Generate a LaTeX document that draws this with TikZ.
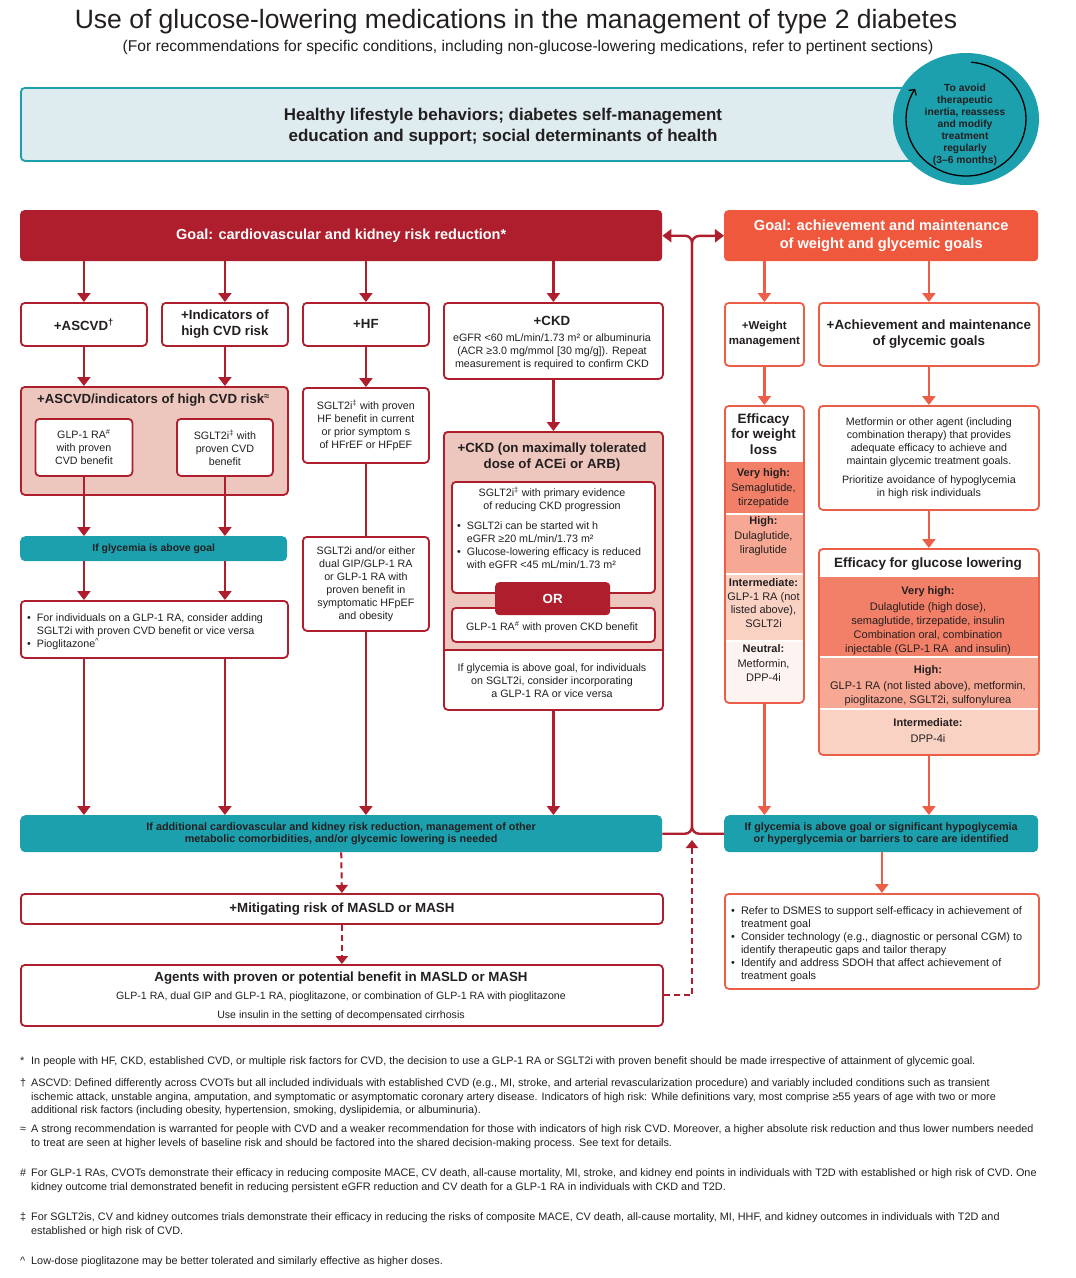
\documentclass[tikz,border=0pt]{standalone}
\usepackage{fontspec}
\setmainfont{Liberation Sans}
\usetikzlibrary{arrows.meta,calc,shapes.geometric}
\definecolor{dred}{RGB}{175,30,45}
\definecolor{pinkf}{RGB}{237,198,190}
\definecolor{tealc}{RGB}{28,160,174}
\definecolor{lblue}{RGB}{222,236,239}
\definecolor{gor}{RGB}{240,88,62}
\definecolor{obd}{RGB}{236,94,72}
\definecolor{vh}{RGB}{242,128,104}
\definecolor{hi}{RGB}{246,168,148}
\definecolor{im}{RGB}{250,210,196}
\definecolor{nt}{RGB}{253,244,241}
\definecolor{txt}{RGB}{35,31,32}
\newcommand\fB{\fontsize{10.7}{13}\selectfont}
\newcommand\fH{\bfseries\fontsize{13.3}{16}\selectfont}
\newcommand\fT{\bfseries\fontsize{10.8}{12.5}\selectfont}
\newcommand\fN{\fontsize{10.85}{13.5}\selectfont}
\newcommand\fL{\bfseries\fontsize{11}{13.5}\selectfont}
\newcommand\fBd{\fontsize{11}{13.5}\selectfont}
\newcommand\bl{\textbullet}
\begin{document}
\begin{tikzpicture}[x=1pt,y=-1pt,
  every node/.style={text=txt},
  sz/.style 2 args={minimum width=#1pt, minimum height=#2pt},
  rb/.style={draw=dred, line width=1.8pt, rounded corners=4pt, fill=white, align=center, inner sep=2pt, anchor=north west},
  ob/.style={draw=obd, line width=1.8pt, rounded corners=4pt, fill=white, align=center, inner sep=2pt, anchor=north west},
  tb/.style={fill=tealc, rounded corners=5pt, align=center, anchor=north west, font=\fT, inner sep=1pt},
  arr/.style={draw=dred, line width=2.4pt, -{Triangle[width=13pt,length=9pt]}},
  oarr/.style={draw=obd, line width=2.4pt, -{Triangle[width=13pt,length=9pt]}},
  conn/.style={draw=dred, line width=2.4pt},
  dsh/.style={draw=dred, line width=2pt, dash pattern=on 6pt off 4pt, -{Triangle[width=12pt,length=8pt]}},
  lbl/.style={align=center, inner sep=0pt},
  tl/.style={anchor=north west, inner sep=0pt}
]
\useasboundingbox (0,0) rectangle (1076,1278);
\fill[white] (0,0) rectangle (1076,1278);

% ---------- header ----------
\node[font=\fontsize{26.5}{31}\selectfont] (title) at (516,22) {Use of glucose-lowering medications in the management of type 2 diabetes};
\node[font=\fontsize{15.6}{18}\selectfont] (subtitle) at (528,47) {(For recommendations for specific conditions, including non-glucose-lowering medications, refer to pertinent sections)};

\node[draw=tealc, fill=lblue, line width=1.8pt, rounded corners=4pt, anchor=north west, sz={915}{73}] (life) at (20,87) {};
\node[font=\bfseries\fontsize{17}{21}\selectfont, lbl] (lifet) at (503,127) {Healthy lifestyle behaviors; diabetes self-management\\education and support; social determinants of health};

\node[ellipse, fill=tealc, minimum width=146pt, minimum height=132pt, inner sep=0pt] (reassess) at (966,119) {};
\node[font=\bfseries\fontsize{10.3}{12}\selectfont, lbl] (reasst) at (965,125) {To avoid\\therapeutic\\inertia, reassess\\and modify\\treatment\\regularly\\(3--6 months)};
\draw[line width=1.3pt, -{Straight Barb[length=4pt,width=9pt]}] ($(reassess.center)+(-85:60 and 57)$) arc[start angle=-85, end angle=212, x radius=60, y radius=57];

% ---------- goals ----------
\node[fill=dred, rounded corners=4pt, anchor=north west, sz={642}{51}, text=white, font=\bfseries\fontsize{14.5}{17}\selectfont] (goalL) at (20,210) {Goal: cardiovascular and kidney risk reduction*};
\node[fill=gor, rounded corners=4pt, anchor=north west, sz={314}{51}, text=white, align=center, font=\bfseries\fontsize{14.6}{18}\selectfont] (goalR) at (724,210) {Goal: achievement and maintenance\\of weight and glycemic goals};

% ---------- bottom teal bars ----------
\node[tb, sz={642}{37}] (tealL) at (20,815) {If additional cardiovascular and kidney risk reduction, management of other\\metabolic comorbidities, and/or glycemic lowering is needed};
\node[tb, sz={314}{37}] (tealR) at (724,815) {If glycemia is above goal or significant hypoglycemia\\or hyperglycemia or barriers to care are identified};

\coordinate (jtop) at (692,236);
\coordinate (jbot) at (tealL.east -| jtop);
\coordinate (dashend) at (692,840);
\draw[conn, rounded corners=7pt, {Triangle[width=13pt,length=9pt]}-] (goalL.east) -| (jbot) -- (tealL.east);
\draw[conn, rounded corners=7pt, -{Triangle[width=13pt,length=9pt]}] (tealR.west) -| (jtop) -- (goalR.west);

% ---------- left column: ASCVD ----------
\node[rb, sz={126}{43}, font=\fH] (ascvd) at (20,302) {+ASCVD\textsuperscript{\dag}};
\node[rb, sz={126}{43}, font=\fH] (ind) at (161,302) {+Indicators of\\high CVD risk};
\node[rb, sz={126}{43}, font=\fH] (hf) at (302,302) {+HF};
\node[rb, sz={219}{76}] (ckd) at (443,302) {};
\node[font=\fH, lbl] (ckdt) at (552,321) {+CKD};
\node[font=\fB, lbl] (ckdb) at (552,352) {eGFR <60 mL/min/1.73 m² or albuminuria\\(ACR ≥3.0 mg/mmol [30 mg/g]). Repeat\\measurement is required to confirm CKD};

\node[draw=dred, fill=pinkf, line width=1.8pt, rounded corners=4pt, anchor=north west, sz={267}{108}] (grp) at (20,386) {};
\node[font=\bfseries\fontsize{13.2}{15}\selectfont, lbl] (grpt) at (153.5,400) {+ASCVD/indicators of high CVD risk\textsuperscript{≈}};
\node[rb, sz={97}{57}, font=\fB] (glp) at (34.5,418) {GLP-1 RA\textsuperscript{\#}\\with proven\\CVD benefit};
\node[rb, sz={96}{57}, font=\fB] (sglt) at (176,418) {SGLT2i\textsuperscript{\ddag} with\\proven CVD\\benefit};

\node[tb, sz={267}{25}, font=\bfseries\fontsize{10.4}{12}\selectfont] (tglyc) at (20,536) {If glycemia is above goal};
\node[rb, sz={267}{57}] (bul) at (20,600) {};
\node[tl, font=\fB] (bult) at (27,612.5) {\begin{tabular}{@{}l@{\hspace{6pt}}l@{}}\bl & For individuals on a GLP-1 RA, consider adding\\ & SGLT2i with proven CVD benefit or vice versa\\ \bl & Pioglitazone\textsuperscript{\textasciicircum}\end{tabular}};

\draw[arr] (goalL.south -| ascvd.north) -- (ascvd.north);
\draw[arr] (goalL.south -| ind.north) -- (ind.north);
\draw[arr] (goalL.south -| hf.north) -- (hf.north);
\draw[arr] (goalL.south -| ckd.north) -- (ckd.north);
\draw[arr] (ascvd.south) -- (ascvd.south |- grp.north);
\draw[arr] (ind.south) -- (ind.south |- grp.north);
\draw[arr] (glp.south -| ascvd.south) -- (tglyc.north -| ascvd.south);
\draw[arr] (sglt.south -| ind.south) -- (tglyc.north -| ind.south);
\draw[arr] (tglyc.south -| ascvd.south) -- (bul.north -| ascvd.south);
\draw[arr] (tglyc.south -| ind.south) -- (bul.north -| ind.south);
\draw[arr] (bul.south -| ascvd.south) -- (tealL.north -| ascvd.south);
\draw[arr] (bul.south -| ind.south) -- (tealL.north -| ind.south);

% ---------- HF column ----------
\node[rb, sz={126}{75}, font=\fB] (hf2) at (302,387) {SGLT2i\textsuperscript{\ddag} with proven\\HF benefit in current\\or prior symptom s\\of HFrEF or HFpEF};
\node[rb, sz={126}{94}, font=\fB] (hf3) at (302,536) {SGLT2i and/or either\\dual GIP/GLP-1 RA\\or GLP-1 RA with\\proven benefit in\\symptomatic HFpEF\\and obesity};
\draw[arr] (hf.south) -- (hf2.north);
\draw[conn] (hf2.south) -- (hf3.north);
\draw[arr] (hf3.south) -- (hf3.south |- tealL.north);

% ---------- CKD column ----------
\begin{scope}
\clip[rounded corners=4pt] (443,431) rectangle (662,709);
\fill[white] (443,431) rectangle (662,709);
\fill[pinkf] (443,431) rectangle (662,650);
\end{scope}
\draw[dred, line width=1.3pt] (443,650) -- (662,650);
\node[draw=dred, line width=1.8pt, rounded corners=4pt, anchor=north west, sz={219}{278}] (ckdg) at (443,431) {};
\node[font=\bfseries\fontsize{13.3}{16}\selectfont, lbl] (ckdgt) at (552,457) {+CKD (on maximally tolerated\\dose of ACEi or ARB)};
\node[rb, sz={203}{111}] (cks) at (451,481) {};
\node[font=\fB, lbl] (ckst) at (552,499.5) {SGLT2i\textsuperscript{\ddag} with primary evidence\\of reducing CKD progression};
\node[tl, font=\fB] (cksb) at (457,520.5) {\begin{tabular}{@{}l@{\hspace{6pt}}l@{}}\bl & SGLT2i can be started wit h\\ & eGFR ≥20 mL/min/1.73 m²\\ \bl & Glucose-lowering efficacy is reduced\\ & with eGFR <45 mL/min/1.73 m²\end{tabular}};
\node[rb, sz={203}{34}] (ckg) at (451,607) {};
\node[font=\fB, lbl] (ckgt) at (552,627) {GLP-1 RA\textsuperscript{\#} with proven CKD benefit};
\node[fill=dred, rounded corners=4pt, anchor=north west, sz={115}{33}, text=white, font=\bfseries\fontsize{13.3}{16}\selectfont] (ckor) at (495,582) {OR};
\node[font=\fB, lbl] (ckdbt) at (552,681) {If glycemia is above goal, for individuals\\on SGLT2i, consider incorporating\\a GLP-1 RA or vice versa};
\draw[arr] (ckd.south) -- (ckdg.north);
\draw[arr] (ckdg.south) -- (ckdg.south |- tealL.north);

% ---------- right column ----------
\node[ob, sz={79}{63}, font=\bfseries\fontsize{11.5}{15}\selectfont] (wm) at (724,302) {+Weight\\management};
\node[ob, sz={220}{63}, font=\bfseries\fontsize{13.4}{16}\selectfont] (ach) at (818,302) {+Achievement and maintenance\\of glycemic goals};

\begin{scope}
\clip[rounded corners=4pt] (724,405) rectangle (803,702);
\fill[white] (724,405) rectangle (803,462);
\fill[vh] (724,462) rectangle (803,514);
\fill[hi] (724,514) rectangle (803,574);
\fill[im] (724,574) rectangle (803,641);
\fill[nt] (724,641) rectangle (803,702);
\draw[white, line width=1.5pt] (724,514) -- (803,514) (724,574) -- (803,574) (724,641) -- (803,641);
\end{scope}
\node[ob, fill=none, sz={79}{297}] (wl) at (724,405) {};
\node[font=\bfseries\fontsize{13.5}{15.5}\selectfont, lbl] (wlt) at (763.5,434) {Efficacy\\for weight\\loss};
\node[font=\fL, lbl] (wl1) at (763.5,474) {Very high:};
\node[font=\fBd, lbl] (wl1b) at (763.5,495.5) {Semaglutide,\\tirzepatide};
\node[font=\fL, lbl] (wl2) at (763.5,522) {High:};
\node[font=\fBd, lbl] (wl2b) at (763.5,543.5) {Dulaglutide,\\liraglutide};
\node[font=\fL, lbl] (wl3) at (763.5,583) {Intermediate:};
\node[font=\fBd, lbl] (wl3b) at (763.5,610) {GLP-1 RA (not\\listed above),\\SGLT2i};
\node[font=\fL, lbl] (wl4) at (763.5,649) {Neutral:};
\node[font=\fBd, lbl] (wl4b) at (763.5,670.5) {Metformin,\\DPP-4i};

\node[ob, sz={220}{104}, font=\fB] (met) at (818,405) {Metformin or other agent (including\\combination therapy) that provides\\adequate efficacy to achieve and\\maintain glycemic treatment goals.\\[6pt]Prioritize avoidance of hypoglycemia\\in high risk individuals};

\begin{scope}
\clip[rounded corners=4pt] (818,548) rectangle (1038,754);
\fill[white] (818,548) rectangle (1038,577);
\fill[vh] (818,577) rectangle (1038,657);
\fill[hi] (818,657) rectangle (1038,709);
\fill[im] (818,709) rectangle (1038,754);
\draw[white, line width=1.5pt] (818,657) -- (1038,657) (818,709) -- (1038,709);
\end{scope}
\node[ob, fill=none, sz={220}{206}] (gl) at (818,548) {};
\node[font=\bfseries\fontsize{13.5}{16}\selectfont, lbl] (glt) at (928,564) {Efficacy for glucose lowering};
\node[font=\fL, lbl] (gl1) at (928,592) {Very high:};
\node[font=\fBd, lbl] (gl1b) at (928,614.5) {Dulaglutide (high dose),\\semaglutide, tirzepatide, insulin};
\node[font=\fBd, lbl] (gl1c) at (928,642.5) {Combination oral, combination\\injectable (GLP-1 RA\ \ and insulin)};
\node[font=\fL, lbl] (gl2) at (928,671) {High:};
\node[font=\fBd, lbl] (gl2b) at (928,693.5) {GLP-1 RA (not listed above), metformin,\\pioglitazone, SGLT2i, sulfonylurea};
\node[font=\fL, lbl] (gl3) at (928,723) {Intermediate:};
\node[font=\fBd, lbl] (gl3b) at (928,739) {DPP-4i};

\node[ob, sz={314}{95}] (dsm) at (724,893) {};
\node[tl, font=\fontsize{10.9}{13}\selectfont] (dsmt) at (731,905.5) {\begin{tabular}{@{}l@{\hspace{6pt}}l@{}}\bl & Refer to DSMES to support self-efficacy in achievement of\\ & treatment goal\\ \bl & Consider technology (e.g., diagnostic or personal CGM) to\\ & identify therapeutic gaps and tailor therapy\\ \bl & Identify and address SDOH that affect achievement of\\ & treatment goals\end{tabular}};

\draw[oarr] (goalR.south -| wm.north) -- (wm.north);
\draw[oarr] (goalR.south -| ach.north) -- (ach.north);
\draw[oarr] (wm.south) -- (wl.north);
\draw[oarr] (ach.south) -- (met.north);
\draw[oarr] (met.south) -- (gl.north);
\draw[oarr] (wl.south) -- (wl.south |- tealR.north);
\draw[oarr] (gl.south) -- (gl.south |- tealR.north);
\draw[oarr] (tealR.south -| dsm.north) -- (dsm.north);

% ---------- MASLD ----------
\node[rb, sz={642}{30}, font=\fH] (mit) at (20,893) {+Mitigating risk of MASLD or MASH};
\node[rb, sz={642}{61}] (ag) at (20,964) {};
\node[font=\fH, lbl] (agt) at (341,978) {Agents with proven or potential benefit in MASLD or MASH};
\node[font=\fontsize{10.6}{12}\selectfont, lbl] (ag1) at (341,997) {GLP-1 RA, dual GIP and GLP-1 RA, pioglitazone, or combination of GLP-1 RA with pioglitazone};
\node[font=\fontsize{10.6}{12}\selectfont, lbl] (ag2) at (341,1016) {Use insulin in the setting of decompensated cirrhosis};
\draw[dsh] (tealL.south) -- (mit.north);
\draw[dsh] (mit.south) -- (ag.north);
\draw[dsh] (ag.east) -| (dashend);

% ---------- footnotes ----------
\node[tl, font=\fN] (fn1) at (20,1055) {\begin{tabular}{@{}l@{}l@{}}\makebox[11pt][l]{*} & In people with HF, CKD, established CVD, or multiple risk factors for CVD, the decision to use a GLP-1 RA or SGLT2i with proven benefit should be made irrespective of attainment of glycemic goal.\end{tabular}};
\node[tl, font=\fN] (fn2) at (20,1077) {\begin{tabular}{@{}l@{}l@{}}\makebox[11pt][l]{\dag} & ASCVD: Defined differently across CVOTs but all included individuals with established CVD (e.g., MI, stroke, and arterial revascularization procedure) and variably included conditions such as transient\\ & ischemic attack, unstable angina, amputation, and symptomatic or asymptomatic coronary artery disease. Indicators of high risk: While definitions vary, most comprise ≥55 years of age with two or more\\ & additional risk factors (including obesity, hypertension, smoking, dyslipidemia, or albuminuria).\end{tabular}};
\node[tl, font=\fN] (fn3) at (20,1123) {\begin{tabular}{@{}l@{}l@{}}\makebox[11pt][l]{≈} & A strong recommendation is warranted for people with CVD and a weaker recommendation for those with indicators of high risk CVD. Moreover, a higher absolute risk reduction and thus lower numbers needed\\ & to treat are seen at higher levels of baseline risk and should be factored into the shared decision-making process. See text for details.\end{tabular}};
\node[tl, font=\fN] (fn4) at (20,1167) {\begin{tabular}{@{}l@{}l@{}}\makebox[11pt][l]{\#} & For GLP-1 RAs, CVOTs demonstrate their efficacy in reducing composite MACE, CV death, all-cause mortality, MI, stroke, and kidney end points in individuals with T2D with established or high risk of CVD. One\\ & kidney outcome trial demonstrated benefit in reducing persistent eGFR reduction and CV death for a GLP-1 RA in individuals with CKD and T2D.\end{tabular}};
\node[tl, font=\fN] (fn5) at (20,1211) {\begin{tabular}{@{}l@{}l@{}}\makebox[11pt][l]{\ddag} & For SGLT2is, CV and kidney outcomes trials demonstrate their efficacy in reducing the risks of composite MACE, CV death, all-cause mortality, MI, HHF, and kidney outcomes in individuals with T2D and\\ & established or high risk of CVD.\end{tabular}};
\node[tl, font=\fN] (fn6) at (20,1255) {\begin{tabular}{@{}l@{}l@{}}\makebox[11pt][l]{\textasciicircum} & Low-dose pioglitazone may be better tolerated and similarly effective as higher doses.\end{tabular}};
\end{tikzpicture}
\end{document}
